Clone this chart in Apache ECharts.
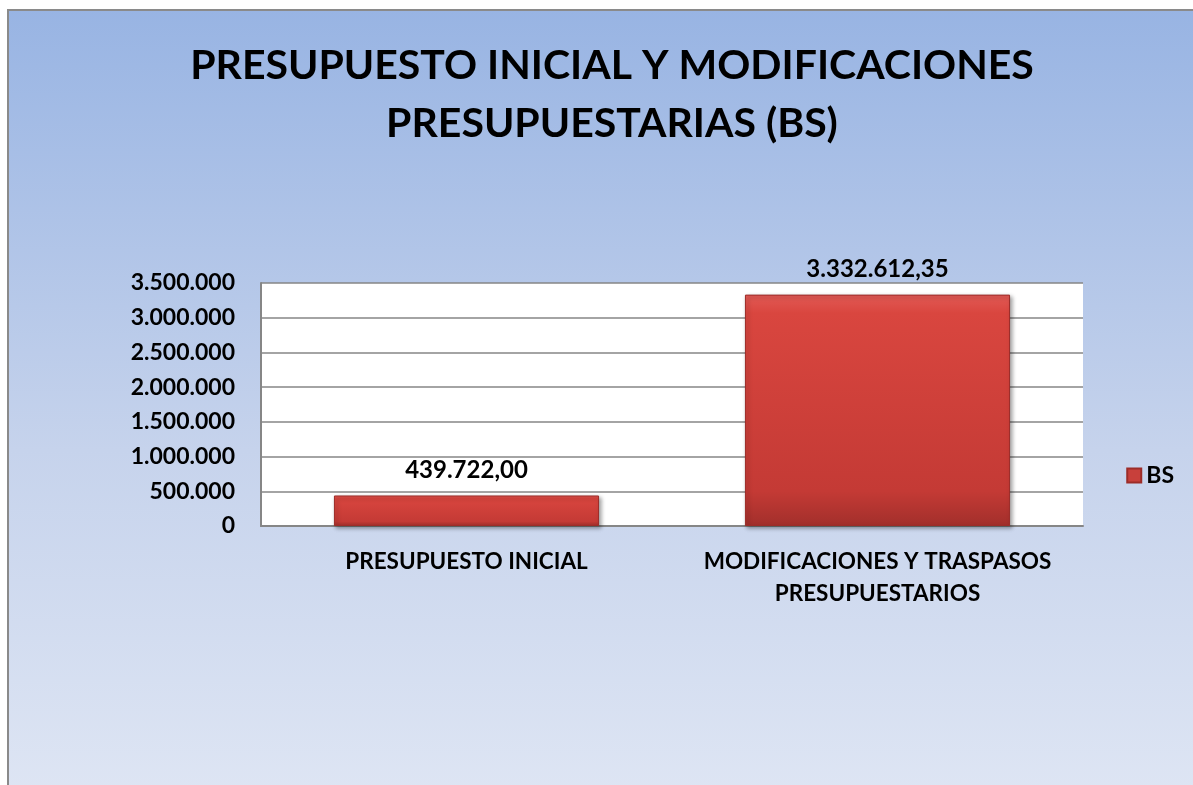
<!DOCTYPE html>
<html><head><meta charset="utf-8">
<script src="https://cdn.jsdelivr.net/npm/echarts@6/dist/echarts.min.js"></script>
<style>html,body{margin:0;padding:0;background:#fff;}#c{width:1193px;height:785px;}</style>
</head><body><div id="c"></div>
<script>
const categories = ['PRESUPUESTO INICIAL', 'MODIFICACIONES Y TRASPASOS\nPRESUPUESTARIOS'];
const seriesName = 'BS';
const values = [439722.00, 3332612.35];
const titleText = 'PRESUPUESTO INICIAL Y MODIFICACIONES\nPRESUPUESTARIAS (BS)';
const yMax = 3500000, yInterval = 500000;

const FONT = 'Lato';
function fmtInt(v){ return String(Math.round(v)).replace(/\B(?=(\d{3})+(?!\d))/g,'.'); }
function fmtDec(v){ const p = v.toFixed(2).split('.'); return fmtInt(+p[0]) + ',' + p[1]; }

const chart = echarts.init(document.getElementById('c'), null, {renderer:'canvas'});
chart.setOption({
  animation:false,
  graphic:[{
    type:'rect', z:-10, silent:true,
    shape:{x:8,y:10,width:1200,height:800},
    style:{
      fill:new echarts.graphic.LinearGradient(0,0,0,1,[{offset:0,color:'#98B4E3'},{offset:0.55,color:'#C6D3EC'},{offset:1,color:'#DFE6F4'}]),
      stroke:'#8a8a8a', lineWidth:2
    }
  }],
  title:{
    text:titleText, left:607, top:32, textAlign:'center',
    textStyle:{fontFamily:FONT, fontWeight:'bold', fontSize:41, lineHeight:58, color:'#000'}
  },
  legend:{
    right:14, top:459, itemWidth:14, itemHeight:14, itemGap:6,
    icon:'rect',
    textStyle:{fontFamily:FONT, fontWeight:'bold', fontSize:23, color:'#000'},
    data:[{name:seriesName, itemStyle:{color:'#C8403B'}}]
  },
  grid:{left:261, top:283, width:822, height:243, show:true, backgroundColor:'#fff', borderWidth:0},
  xAxis:{
    type:'category', data:categories,
    axisLine:{show:true, lineStyle:{color:'#868686', width:2}},
    axisTick:{show:false},
    axisLabel:{interval:0, hideOverlap:false, fontFamily:FONT, fontWeight:'bold', fontSize:22.5, color:'#000', margin:20, lineHeight:32, align:'center'}
  },
  yAxis:{
    type:'value', min:0, max:yMax, interval:yInterval,
    axisLine:{show:true, lineStyle:{color:'#868686', width:2}},
    axisTick:{show:false},
    splitLine:{lineStyle:{color:'#868686', width:1.5}},
    axisLabel:{fontFamily:FONT, fontWeight:'bold', fontSize:23, color:'#000', margin:26, formatter:v=>fmtInt(v)}
  },
  series:[{
    name:seriesName, type:'bar', data:values, barWidth:'64.5%',
    itemStyle:{
      color:new echarts.graphic.LinearGradient(0,0,0,1,[{offset:0,color:'#E25A55'},{offset:0.08,color:'#D9463F'},{offset:0.85,color:'#C43A35'},{offset:1,color:'#A22F2B'}]),
      borderColor:'#9c2c28', borderWidth:1,
      shadowColor:'rgba(0,0,0,0.35)', shadowBlur:4, shadowOffsetX:2, shadowOffsetY:2
    },
    label:{show:true, position:'top', distance:13, fontFamily:FONT, fontWeight:'bold', fontSize:24, color:'#000', formatter:p=>fmtDec(p.value)}
  }]
});
</script></body></html>
